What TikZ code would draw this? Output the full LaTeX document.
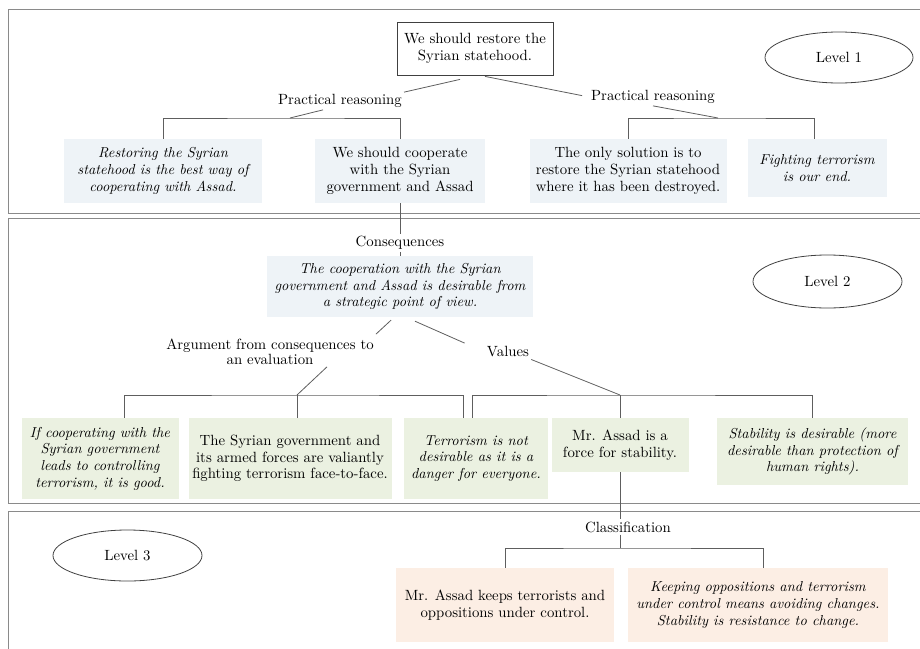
\documentclass[tikz,border=0pt]{standalone}
\usepackage{fontspec}
\setmainfont{lmroman10-regular.otf}[ItalicFont=lmroman10-italic.otf, BoldFont=lmroman10-bold.otf]
\usetikzlibrary{shapes.geometric}
\definecolor{panelgray}{HTML}{8A8A8A}
\definecolor{linegray}{HTML}{5E5E5E}
\definecolor{bluefill}{HTML}{EEF3F7}
\definecolor{greenfill}{HTML}{EBF1E1}
\definecolor{orangefill}{HTML}{FCEEE4}

\begin{document}
\begin{tikzpicture}[x=1pt,y=-1pt,
  every node/.style={font=\fontsize{14.8}{16.7}\selectfont, align=center, inner sep=2pt},
  panel/.style={draw=panelgray, line width=1pt},
  conn/.style={draw=linegray, line width=0.8pt},
  claim/.style={draw=black!75, fill=white, line width=0.8pt, minimum width=156pt, minimum height=53pt},
  lvl/.style={draw=black!75, ellipse, line width=0.8pt, minimum width=148pt, minimum height=51pt},
  bluebox/.style={fill=bluefill},
  greenbox/.style={fill=greenfill},
  orangebox/.style={fill=orangefill},
  slanted/.style={font=\fontsize{14.4}{16.7}\selectfont\itshape}]
\useasboundingbox (0,0) rectangle (920,648);

% the three levels
\draw[panel] (8,9.5) rectangle (935,213.5);
\draw[panel] (8,218.5) rectangle (935,503.5);
\draw[panel] (8,511) rectangle (935,660);

% level 1
\node[claim] (restore) at (475,48.5) {We should restore the\\Syrian statehood.};
\node[lvl] (lvlone) at (839,57.5) {Level 1};
\node (prone) at (340,101) {Practical reasoning};
\node (prtwo) at (653,97) {Practical reasoning};
\node[bluebox, slanted, minimum width=198pt, minimum height=64pt] (bestway) at (163,171) {Restoring the Syrian\\statehood is the best way of\\cooperating with Assad.};
\node[bluebox, minimum width=170pt, minimum height=64pt] (coop) at (400,171) {We should cooperate\\with the Syrian\\government and Assad};
\node[bluebox, minimum width=197pt, minimum height=64pt] (onlysol) at (628,171) {The only solution is to\\restore the Syrian statehood\\where it has been destroyed.};
\node[bluebox, slanted, minimum width=139pt, minimum height=58pt] (ourend) at (817,168) {Fighting terrorism\\is our end.};
\coordinate (jone) at (290,118);
\coordinate (jtwo) at (718,118);

% level 2
\node[lvl, minimum width=149pt, minimum height=53pt] (lvltwo) at (827.5,281.5) {Level 2};
\node (cons) at (400,243) {Consequences};
\node[bluebox, slanted, minimum width=266pt, minimum height=61pt] (strat) at (400,286.5) {The cooperation with the Syrian\\government and Assad is desirable from\\a strategic point of view.};
\node[font=\fontsize{14.8}{14.5}\selectfont] (argeval) at (270,352) {Argument from consequences to\\an evaluation};
\node (values) at (508,352) {Values};
\node[greenbox, slanted, minimum width=157pt, minimum height=81pt] (ifcoop) at (100,458.5) {If cooperating with the\\Syrian government\\leads to controlling\\terrorism, it is good.};
\node[greenbox, minimum width=203pt, minimum height=81pt] (facetoface) at (290,458.5) {The Syrian government and\\its armed forces are valiantly\\fighting terrorism face-to-face.};
\node[greenbox, slanted, minimum width=144pt, minimum height=81pt] (danger) at (476,458.5) {Terrorism is not\\desirable as it is a\\danger for everyone.};
\node[greenbox, minimum width=137pt, minimum height=54pt] (stabforce) at (620,445) {Mr. Assad is a\\force for stability.};
\node[greenbox, slanted, minimum width=191pt, minimum height=67pt] (stabdes) at (812.5,451.5) {Stability is desirable (more\\desirable than protection of\\human rights).};
\coordinate (jthree) at (297,395);
\coordinate (jfour) at (620,395);

% level 3
\node[lvl, minimum width=149pt] (lvlthree) at (127.5,555.5) {Level 3};
\node (classif) at (628,527) {Classification};
\node[orangebox, minimum width=218pt, minimum height=74pt] (keeps) at (505,605) {Mr. Assad keeps terrorists and\\oppositions under control.};
\node[orangebox, slanted, minimum width=260pt, minimum height=74pt] (resist) at (758,605) {Keeping oppositions and terrorism\\under control means avoiding changes.\\Stability is resistance to change.};
\coordinate (jfive) at (620,548);

% connectors
\draw[conn] ([xshift=-15pt,yshift=-4pt]restore.south) -- (prone.north east);
\draw[conn, shorten >=7pt] ([xshift=10pt,yshift=-1pt]restore.south) -- (prtwo.west);
\draw[conn] ([xshift=-17pt]prone.south) -- (jone);
\draw[conn] (prtwo.south) -- (jtwo);
\draw[conn] (bestway.north) |- (jone) -| (coop.north);
\draw[conn] (onlysol.north) |- (jtwo) -| ([xshift=-3pt]ourend.north);

\draw[conn] (coop) -- (cons);
\draw[conn] (cons) -- (strat);
\draw[conn] ([xshift=-9pt,yshift=-3pt]strat.south) -- ([yshift=3pt]argeval.north east);
\draw[conn, shorten >=22pt] ([xshift=15pt,yshift=-4pt]strat.south) -- (values.west);
\draw[conn] ([xshift=57pt]argeval.south) -- (jthree);
\draw[conn] (values.south east) -- (jfour);
\draw[conn] ([xshift=24pt]ifcoop.north) |- (jthree) -| ([xshift=-13pt]danger.north);
\draw[conn] (jthree) -- (jthree |- facetoface.north);
\draw[conn] ([xshift=-4pt]danger.north) |- (jfour) -| (stabdes.north);
\draw[conn] (jfour) -- (stabforce);

\draw[conn] (stabforce.south) -- (stabforce.south |- classif.north);
\draw[conn] (stabforce.south |- classif.south) -- (jfive);
\draw[conn] (keeps.north) |- (jfive) -| ([xshift=5pt]resist.north);
\end{tikzpicture}
\end{document}
